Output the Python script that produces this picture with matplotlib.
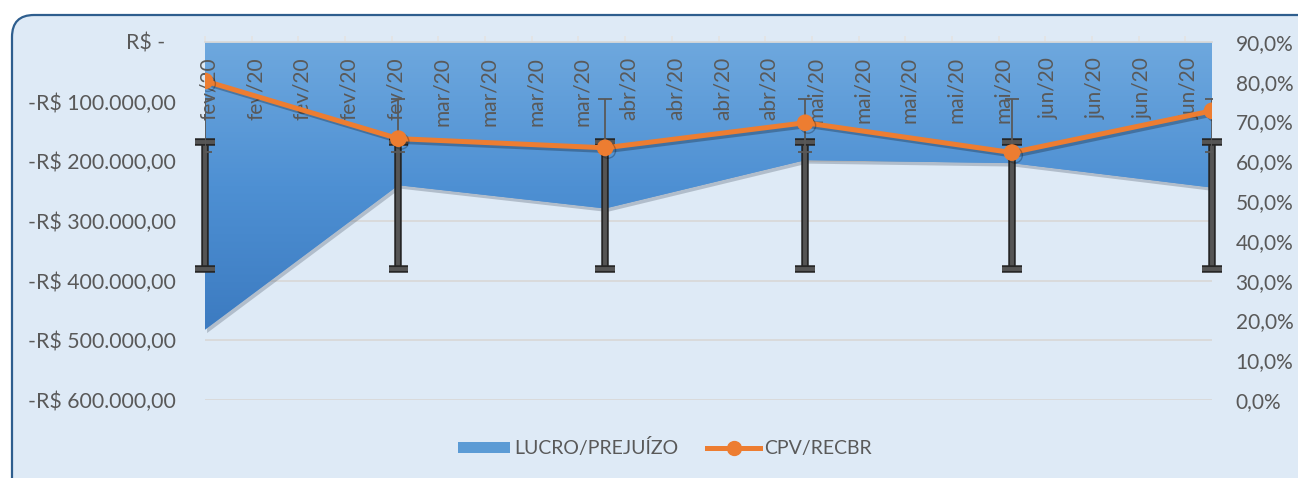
import matplotlib

matplotlib.use("Agg")
import matplotlib.pyplot as plt
import matplotlib.dates as mdates
import matplotlib.patheffects as pe
import matplotlib.transforms as mtransforms
from matplotlib.colors import LinearSegmentedColormap
from matplotlib.lines import Line2D
from matplotlib.patches import FancyBboxPatch, Patch
from matplotlib.ticker import FuncFormatter
import numpy as np
import pandas as pd

# monthly points (1st of each month)
DATES = ["2020-02-01", "2020-03-01", "2020-04-01", "2020-05-01", "2020-06-01", "2020-07-01"]
LUCRO = [-482000, -240000, -279000, -198000, -203000, -244000]
CPV_RECBR = [0.802, 0.657, 0.634, 0.697, 0.622, 0.727]

# weekly category ticks on the top axis
TICK_START = "2020-02-01"
TICK_LABELS = [
    "fev/20", "fev/20", "fev/20", "fev/20", "fev/20",
    "mar/20", "mar/20", "mar/20", "mar/20",
    "abr/20", "abr/20", "abr/20", "abr/20",
    "mai/20", "mai/20", "mai/20", "mai/20", "mai/20",
    "jun/20", "jun/20", "jun/20", "jun/20",
]
LEFT_TICKS = [0, -100000, -200000, -300000, -400000, -500000, -600000]
RIGHT_TICKS = [0.0, 0.1, 0.2, 0.3, 0.4, 0.5, 0.6, 0.7, 0.8, 0.9]

BG = "#DEEAF6"
GRAY_TEXT = "#595959"
ORANGE = "#ED7D31"

plt.rcParams["font.family"] = ["Lato", "DejaVu Sans"]


def brl(value, _pos):
    if value == 0:
        return "R$ -  "
    text = f"{abs(value):,.2f}".replace(",", "X").replace(".", ",").replace("X", ".")
    return f"-R$ {text}"


def pct(value, _pos):
    return f"{value * 100:.1f}%".replace(".", ",")


W, H = 1298, 478
fig = plt.figure(figsize=(W / 100, H / 100), dpi=100, facecolor="white")

frame = FancyBboxPatch(
    (12, -40), W + 40, H - 15 + 40,
    boxstyle="round,pad=0,rounding_size=22",
    transform=mtransforms.IdentityTransform(),
    facecolor=BG, edgecolor="#2E5E8E", linewidth=1.6, zorder=-10,
)
fig.add_artist(frame)

left, right, top, bottom = 205, 1212, 42, 400
ax = fig.add_axes([left / W, 1 - bottom / H, (right - left) / W, (bottom - top) / H])
ax.set_facecolor("none")

x = mdates.date2num(pd.to_datetime(DATES))
lucro = np.asarray(LUCRO, dtype=float)
cpv = np.asarray(CPV_RECBR, dtype=float)

# area with gradient and soft shadow
fill = ax.fill_between(x, lucro, 0, facecolor="#4F8FD2", edgecolor="none", zorder=1)
fill.set_path_effects([
    pe.SimplePatchShadow(offset=(1.5, -2.5), shadow_rgbFace="#4a5868", alpha=0.3),
    pe.Normal(),
])
grad = LinearSegmentedColormap.from_list("g", ["#6EA8DE", "#4E90D3", "#3C7BC1"])
im = ax.imshow(
    np.linspace(0, 1, 256).reshape(-1, 1), cmap=grad, aspect="auto",
    extent=[x[0], x[-1], lucro.min(), 0], origin="upper", zorder=1.1,
)
im.set_clip_path(fill.get_paths()[0], transform=ax.transData)

# standard-deviation error bars around the series mean
eb = ax.errorbar(
    x, np.full_like(lucro, lucro.mean()), yerr=lucro.std(ddof=1), fmt="none",
    ecolor="#555555", elinewidth=2.8, capsize=7, capthick=2.8, zorder=3,
)
for art in list(eb.lines[1]) + list(eb.lines[2]):
    art.set_path_effects([pe.Stroke(linewidth=5.4, foreground="#262626"), pe.Normal()])
    art.set_clip_on(False)

ax.set_xlim(x[0], x[-1])
ax.set_ylim(-600000, 0)
ax.set_yticks(LEFT_TICKS)
ax.yaxis.set_major_formatter(FuncFormatter(brl))
ax.grid(axis="y", color="#D9D9D9", linewidth=1.3)
ax.set_axisbelow(True)
ax.tick_params(axis="y", length=0, pad=21, labelsize=15.3, labelcolor=GRAY_TEXT)

ticks = mdates.date2num(pd.date_range(TICK_START, periods=len(TICK_LABELS), freq="7D"))
ax.xaxis.tick_top()
ax.set_xticks(ticks)
ax.tick_params(axis="x", direction="out", length=4, width=1.3, color="#E4E4E4",
               labeltop=False, labelbottom=False)
for side in ("left", "right", "bottom"):
    ax.spines[side].set_visible(False)
ax.spines["top"].set_color("#D9D9D9")
ax.spines["top"].set_linewidth(1.3)

label_trans = mtransforms.offset_copy(
    mtransforms.blended_transform_factory(ax.transData, ax.transAxes), fig=fig, x=4, units="dots"
)
for pos, label in zip(ticks, TICK_LABELS):
    ax.text(pos, 0.958, label, transform=label_trans, rotation=90, ha="center", va="top",
            fontsize=15, color=GRAY_TEXT, zorder=2)

ax2 = ax.twinx()
ax2.errorbar(
    x, np.full_like(cpv, cpv.mean()), yerr=cpv.std(ddof=1), fmt="none",
    ecolor="#595959", elinewidth=1.3, capsize=5, capthick=1.3, zorder=2,
)
ax2.plot(
    x, cpv, color=ORANGE, linewidth=3.6, marker="o", markersize=11, zorder=3,
    path_effects=[pe.SimpleLineShadow(offset=(2, -2), alpha=0.25), pe.Normal()],
)
ax2.set_ylim(0, 0.9)
ax2.set_yticks(RIGHT_TICKS)
ax2.yaxis.set_major_formatter(FuncFormatter(pct))
ax2.tick_params(axis="y", length=0, pad=17, labelsize=15, labelcolor=GRAY_TEXT)
for spine in ax2.spines.values():
    spine.set_visible(False)

handles = [
    Patch(facecolor="#5B9BD5", edgecolor="none"),
    Line2D([], [], color=ORANGE, linewidth=3.6, marker="o", markersize=10),
]
leg = fig.legend(
    handles, ["LUCRO/PREJUÍZO", "CPV/RECBR"], loc="center", bbox_to_anchor=(0.512, 0.063),
    ncol=2, frameon=False, fontsize=14, handlelength=2.7, handletextpad=0.2,
    columnspacing=1.5, handleheight=0.5,
)
for text in leg.get_texts():
    text.set_color(GRAY_TEXT)

fig.savefig("out.png", dpi=100)
